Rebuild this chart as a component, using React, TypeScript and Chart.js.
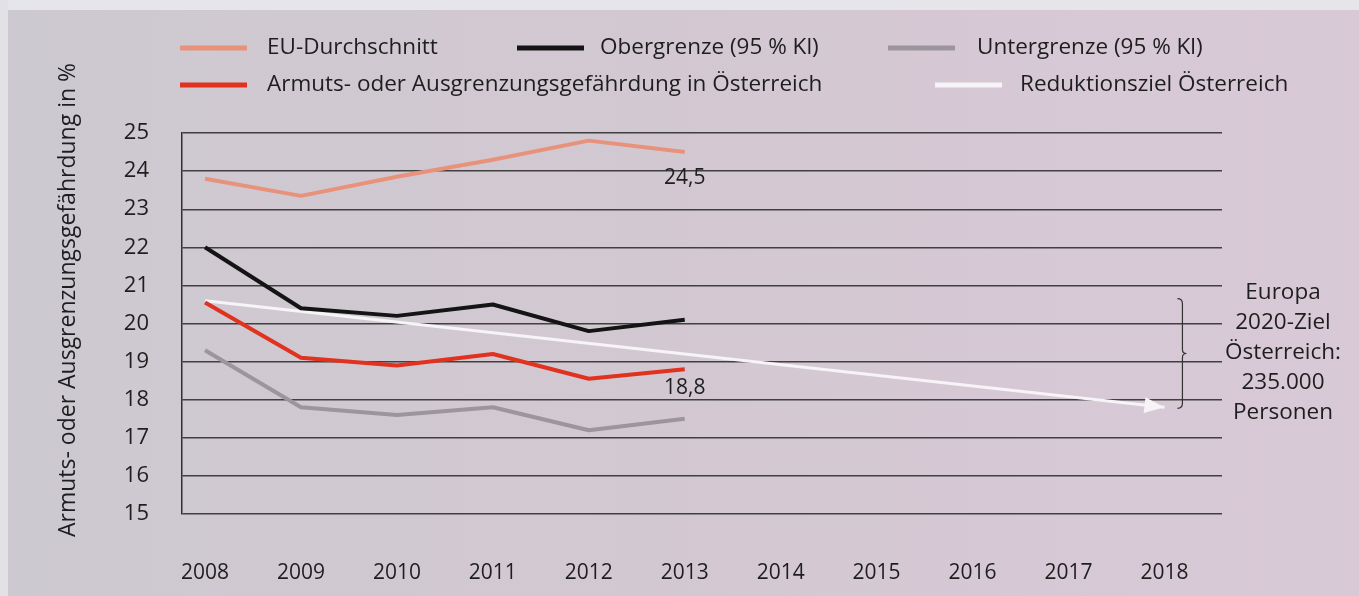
import React, { useEffect, useRef } from "react";
import { Chart, registerables } from "chart.js";

Chart.register(...registerables);

const years = [2008, 2009, 2010, 2011, 2012, 2013];
const axisYears = [2008, 2009, 2010, 2011, 2012, 2013, 2014, 2015, 2016, 2017, 2018];
const euAverage = [23.8, 23.35, 23.85, 24.3, 24.8, 24.5];
const upperBound = [22.0, 20.4, 20.2, 20.5, 19.8, 20.1];
const lowerBound = [19.3, 17.8, 17.6, 17.8, 17.2, 17.5];
const austria = [20.55, 19.1, 18.9, 19.2, 18.55, 18.8];
const targetYears = [2008, 2018];
const targetValues = [20.6, 17.8];
const yTicks = [15, 16, 17, 18, 19, 20, 21, 22, 23, 24, 25];
const labels = {
  eu: "EU-Durchschnitt",
  upper: "Obergrenze (95 % Kl)",
  lower: "Untergrenze (95 % Kl)",
  austria: "Armuts- oder Ausgrenzungsgefährdung in Österreich",
  target: "Reduktionsziel Österreich",
};
const yTitle = "Armuts- oder Ausgrenzungsgefährdung in %";
const noteLines = ["Europa", "2020-Ziel", "Österreich:", "235.000", "Personen"];
const endLabels = ["24,5", "18,8"];

const FONT = '"Open Sans", "Noto Sans", sans-serif';

const toXY = (xs: number[], ys: number[]) => xs.map((x, i) => ({ x, y: ys[i] }));

export default function App() {
  const ref = useRef<HTMLCanvasElement | null>(null);

  useEffect(() => {
    document.body.style.margin = "0";
    const canvas = ref.current;
    if (!canvas) return;

    const decor = {
      id: "decor",
      afterDatasetsDraw(chart: any) {
        const ctx = chart.ctx;
        const xs = chart.scales.x;
        const ys = chart.scales.y;
        // arrow head on target line
        const meta = chart.getDatasetMeta(4);
        const pts = meta.data;
        const p0 = pts[pts.length - 2];
        const p1 = pts[pts.length - 1];
        const ang = Math.atan2(p1.y - p0.y, p1.x - p0.x);
        const L = 20, W = 8;
        ctx.save();
        ctx.fillStyle = "#f6f4f6";
        ctx.beginPath();
        ctx.moveTo(p1.x, p1.y);
        ctx.lineTo(p1.x - L * Math.cos(ang) + W * Math.sin(ang), p1.y - L * Math.sin(ang) - W * Math.cos(ang));
        ctx.lineTo(p1.x - L * Math.cos(ang) - W * Math.sin(ang), p1.y - L * Math.sin(ang) + W * Math.cos(ang));
        ctx.closePath();
        ctx.fill();
        ctx.restore();

        // end value labels
        ctx.save();
        ctx.font = `21px ${FONT}`;
        ctx.fillStyle = "#1e1e1e";
        ctx.textAlign = "center";
        ctx.textBaseline = "middle";
        const xEnd = xs.getPixelForValue(years[years.length - 1]);
        ctx.fillText(endLabels[0], xEnd, ys.getPixelForValue(euAverage[euAverage.length - 1]) + 26);
        ctx.fillText(endLabels[1], xEnd, ys.getPixelForValue(austria[austria.length - 1]) + 19);
        ctx.restore();

        // bracket
        const bx = xs.getPixelForValue(2018) + 18;
        const top = ys.getPixelForValue(targetValues[0]) - 2;
        const bot = ys.getPixelForValue(targetValues[1]) + 1;
        const mid = (top + bot) / 2;
        ctx.save();
        ctx.strokeStyle = "#333";
        ctx.lineWidth = 1.2;
        ctx.beginPath();
        ctx.moveTo(bx - 5, top);
        ctx.quadraticCurveTo(bx, top, bx, top + 5);
        ctx.lineTo(bx, mid - 4);
        ctx.quadraticCurveTo(bx, mid, bx + 4, mid);
        ctx.quadraticCurveTo(bx, mid, bx, mid + 4);
        ctx.lineTo(bx, bot - 5);
        ctx.quadraticCurveTo(bx, bot, bx - 5, bot);
        ctx.stroke();
        ctx.restore();
      },
      afterDraw(chart: any) {
        const ctx = chart.ctx;
        const ds = chart.data.datasets;
        ctx.save();
        ctx.font = `22.5px ${FONT}`;
        ctx.fillStyle = "#1e1e1e";
        ctx.textBaseline = "middle";
        const items = [
          { i: 0, lx: 180, ly: 48, tx: 267 },
          { i: 1, lx: 517, ly: 48, tx: 600 },
          { i: 2, lx: 888, ly: 48, tx: 977 },
          { i: 3, lx: 180, ly: 85, tx: 267 },
          { i: 4, lx: 935, ly: 85, tx: 1020 },
        ];
        items.forEach((it) => {
          ctx.strokeStyle = ds[it.i].borderColor;
          ctx.lineWidth = 5;
          ctx.lineCap = "butt";
          ctx.beginPath();
          ctx.moveTo(it.lx, it.ly);
          ctx.lineTo(it.lx + 67, it.ly);
          ctx.stroke();
          ctx.textAlign = "left";
          ctx.fillText(ds[it.i].label, it.tx, it.ly);
        });

        // y title
        ctx.save();
        ctx.font = `23px ${FONT}`;
        ctx.translate(68, 300);
        ctx.rotate(-Math.PI / 2);
        ctx.textAlign = "center";
        ctx.fillText(yTitle, 0, 0);
        ctx.restore();

        // note
        ctx.textAlign = "center";
        noteLines.forEach((t, k) => ctx.fillText(t, 1283, 293 + k * 30));
        ctx.restore();
      },
    };

    const common = { fill: false, pointRadius: 0, borderWidth: 4, tension: 0, borderJoinStyle: "round" as const };

    const chart = new Chart(canvas, {
      type: "line",
      data: {
        datasets: [
          { ...common, label: labels.eu, data: toXY(years, euAverage), borderColor: "#e8927c" },
          { ...common, label: labels.upper, data: toXY(years, upperBound), borderColor: "#141414" },
          { ...common, label: labels.lower, data: toXY(years, lowerBound), borderColor: "#9c959d" },
          { ...common, label: labels.austria, data: toXY(years, austria), borderColor: "#e0321f" },
          { ...common, label: labels.target, data: toXY(targetYears, targetValues), borderColor: "#f6f4f6", borderWidth: 3 },
        ],
      },
      options: {
        animation: false,
        responsive: false,
        maintainAspectRatio: false,
        layout: { padding: { top: 133, right: 137, left: 0, bottom: 0 } },
        plugins: { legend: { display: false }, tooltip: { enabled: false } },
        scales: {
          x: {
            type: "linear",
            min: 2007.76,
            max: 2018.6,
            afterBuildTicks: (s: any) => {
              s.ticks = axisYears.map((v) => ({ value: v }));
            },
            afterFit: (s: any) => {
              s.height = 596 - 514;
            },
            grid: { display: false },
            border: { display: false },
            ticks: {
              padding: 38,
              color: "#1e1e1e",
              font: { family: FONT, size: 21 },
              maxRotation: 0,
              autoSkip: false,
              callback: (v: any) => String(v),
            },
          },
          y: {
            min: 15,
            max: 25,
            afterBuildTicks: (s: any) => {
              s.ticks = yTicks.map((v) => ({ value: v }));
            },
            afterFit: (s: any) => {
              s.width = 182;
            },
            grid: { color: "#404040", lineWidth: 1.4, drawTicks: false },
            border: { display: true, color: "#303030", width: 1.5 },
            ticks: {
              padding: 33,
              color: "#1e1e1e",
              font: { family: FONT, size: 22 },
              callback: (v: any) => String(v),
            },
          },
        },
      },
      plugins: [decor],
    });

    return () => chart.destroy();
  }, []);

  return (
    <div
      style={{
        position: "fixed",
        left: 0,
        top: 0,
        width: 1359,
        height: 596,
        background: "linear-gradient(90deg, #cdc9d0 0%, #d3c8d2 50%, #d9c9d7 100%)",
      }}
    >
      <div style={{ position: "absolute", left: 0, top: 0, width: 1359, height: 10, background: "#e6e6ea" }} />
      <div style={{ position: "absolute", left: 0, top: 0, width: 8, height: 596, background: "#e2e2e6" }} />
      <canvas ref={ref} width={1359} height={596} style={{ position: "absolute", left: 0, top: 0 }} />
    </div>
  );
}
